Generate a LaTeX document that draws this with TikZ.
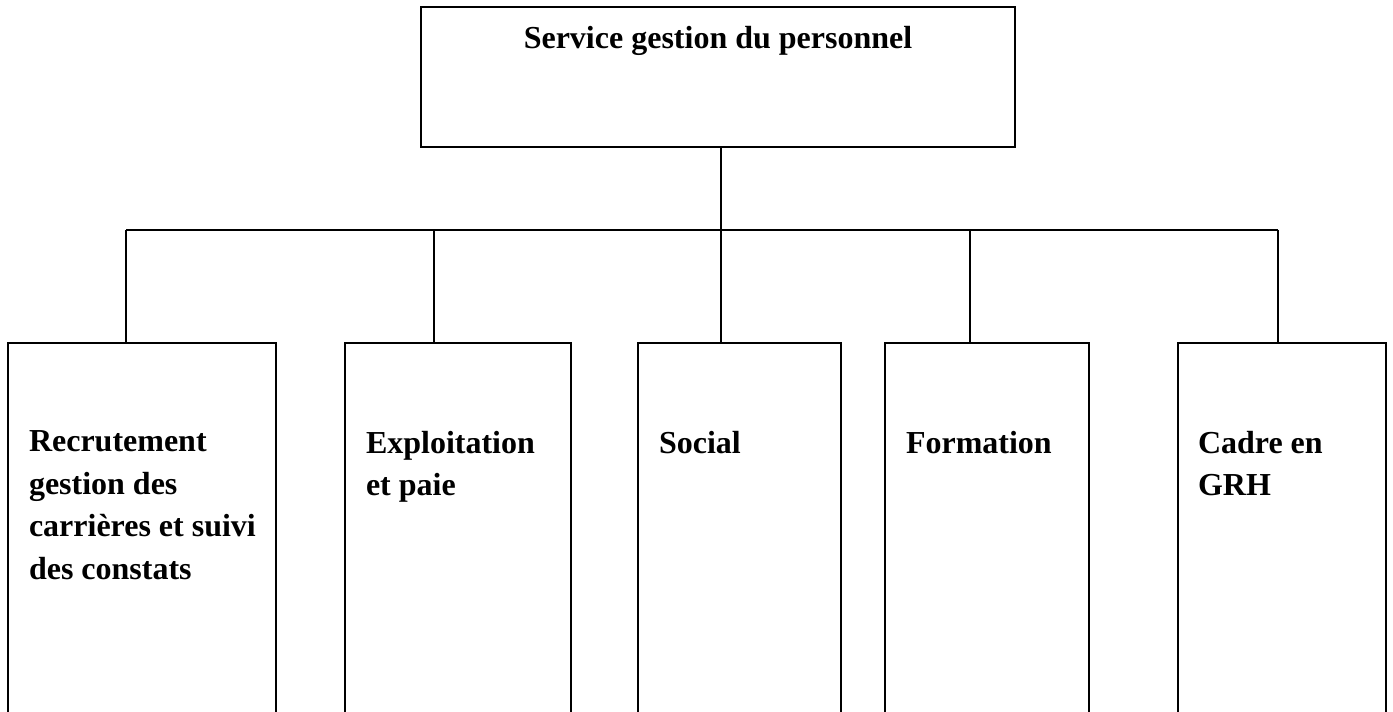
\documentclass[tikz,border=0pt]{standalone}
\usepackage{fontspec}
\setmainfont{Liberation Serif}
\usetikzlibrary{positioning}
\tikzset{
    boite/.style={draw, line width=1pt, inner sep=0pt, outer sep=0pt},
    titre/.style={inner sep=0pt, outer sep=0pt, align=left, font=\fontsize{16pt}{21.25pt}\selectfont\bfseries}
}

\begin{document}
\begin{tikzpicture}[x=0.5pt, y=0.5pt, line width=1pt]
                                \useasboundingbox (0, 0) rectangle (1393, 712);
                                \clip (0, 0) rectangle (1393, 712);
                                \node[boite, minimum width=297pt, minimum height=70pt] (chef) at (718, 635) {};
                                \node[titre, below=9.8pt of chef.north] (chefnom) {Service gestion du personnel};
                                \node[boite, anchor=north, minimum width=134pt, minimum height=200pt] (b1) at (142, 369) {};
                                \node[boite, anchor=north, minimum width=113pt, minimum height=200pt] (b2) at (458, 369) {};
                                \node[boite, anchor=north, minimum width=101.5pt, minimum height=200pt] (b3) at (739.5, 369) {};
                                \node[boite, anchor=north, minimum width=102pt, minimum height=200pt] (b4) at (987, 369) {};
                                \node[boite, anchor=north, minimum width=104pt, minimum height=200pt] (b5) at (1282, 369) {};
                                \node[titre, below right=44pt and 10.5pt of b1.north west] (t1) {Recrutement\\gestion des\\carrières et suivi\\des constats};
                                \node[titre, below right=44pt and 10.5pt of b2.north west] (t2) {Exploitation\\et paie};
                                \node[titre, below right=44pt and 10.5pt of b3.north west] (t3) {Social};
                                \node[titre, below right=44pt and 10.5pt of b4.north west] (t4) {Formation};
                                \node[titre, below right=44pt and 10pt of b5.north west] (t5) {Cadre en\\GRH};
                                \coordinate (d1) at (126, 482);
                                \coordinate (d2) at (434, 482);
                                \coordinate (d3) at (721, 482);
                                \coordinate (d4) at (970, 482);
                                \coordinate (d5) at (1278, 482);
                                \draw
                                (d3 |- chef.south) -- (d3)
                                (d1) -- (d5)
                                (d1) -- (d1 |- b1.north)
                                (d2) -- (d2 |- b2.north)
                                (d3) -- (d3 |- b3.north)
                                (d4) -- (d4 |- b4.north)
                                (d5) -- (d5 |- b5.north);
                            \end{tikzpicture}
\end{document}
